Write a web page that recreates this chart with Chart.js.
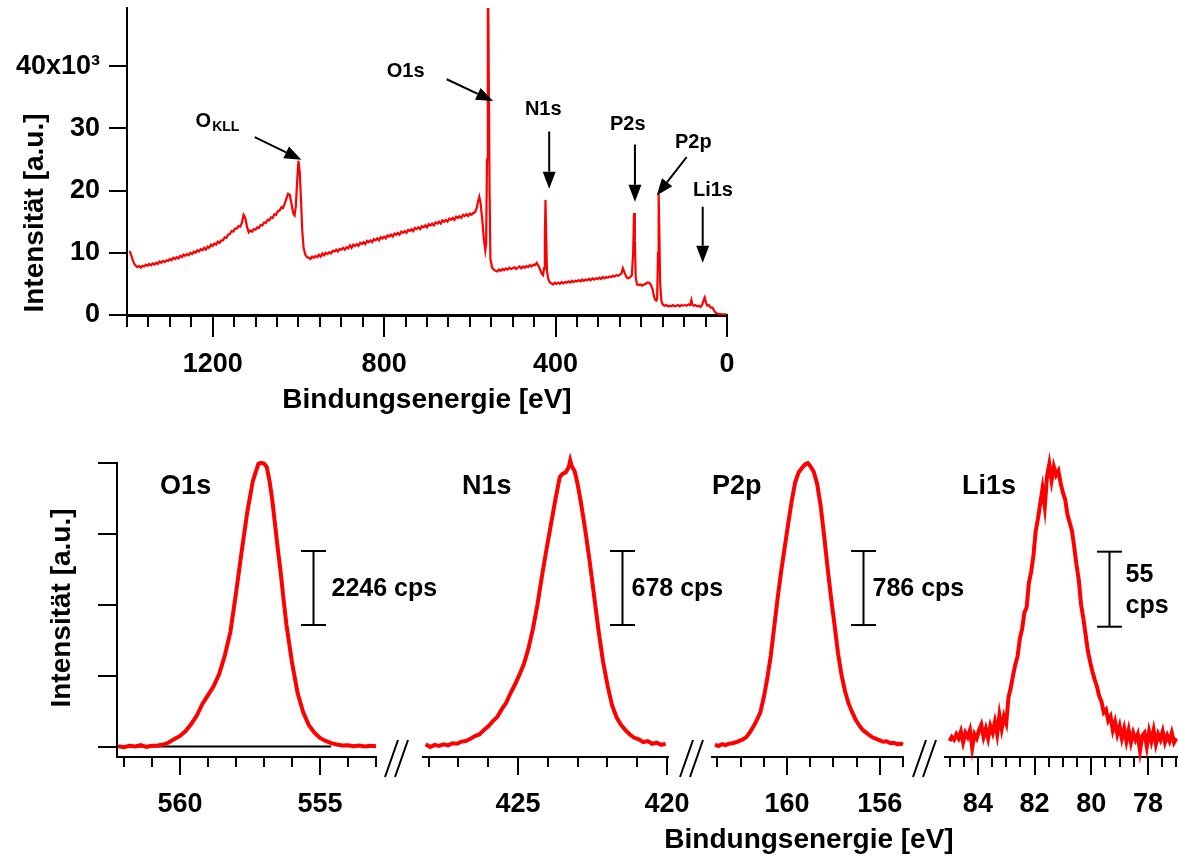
<!DOCTYPE html>
<html><head><meta charset="utf-8"><title>XPS</title>
<script src="https://cdn.jsdelivr.net/npm/chart.js@4.4.1/dist/chart.umd.min.js"></script>
<style>
html,body{margin:0;padding:0;background:#fff;}
body{width:1178px;height:859px;overflow:hidden;position:relative;}
canvas{position:absolute;left:0;top:0;}
</style></head><body>
<canvas id="survey" width="1178" height="859"></canvas>
<canvas id="pO1s" width="1178" height="859"></canvas>
<canvas id="pN1s" width="1178" height="859"></canvas>
<canvas id="pP2p" width="1178" height="859"></canvas>
<canvas id="pLi1s" width="1178" height="859"></canvas>
<script>
// ================= DATA =================
// Survey spectrum: [binding energy (eV), intensity (10^3 cps)]
const surveyPoints = [
[1394,10.3],[1390,9.6],[1386,8.7],[1382,8.1],
[1376,7.7],[1372,7.9],[1368,7.6],[1364,7.9],[1360,7.8],[1356,8.1],[1352,7.9],[1348,8.2],[1344,8.0],[1340,8.3],
[1336,8.1],[1332,8.4],[1328,8.2],[1324,8.6],[1320,8.4],[1316,8.7],[1312,8.5],[1308,8.8],[1304,8.7],[1300,9.0],
[1296,8.8],[1292,9.2],[1288,9.0],[1284,9.3],[1280,9.1],[1276,9.5],[1272,9.3],[1268,9.7],[1264,9.5],[1260,9.8],
[1256,9.6],[1252,10.0],[1248,9.8],[1244,10.2],[1240,10.0],[1236,10.4],[1232,10.2],[1228,10.6],[1224,10.4],[1220,10.8],
[1216,10.5],[1212,11.0],[1208,10.8],[1204,11.3],[1200,11.1],[1196,11.5],[1192,11.3],[1188,11.8],[1184,11.6],[1180,12.0],
[1176,12.0],[1172,12.5],[1168,12.4],[1164,12.9],[1160,13.0],[1156,13.5],[1152,13.4],[1148,13.9],[1144,13.9],[1140,14.3],
[1136,14.2],[1132,14.8],[1128,16.1],[1124,15.6],[1120,14.2],[1116,13.3],
[1112,13.6],[1108,13.4],[1104,13.8],[1100,13.7],[1096,14.1],[1092,14.0],[1088,14.5],[1084,14.4],[1080,14.9],[1076,14.8],
[1072,15.3],[1068,15.2],[1064,15.7],[1060,15.6],[1056,16.2],[1052,16.1],[1048,16.7],[1044,16.8],[1040,17.3],[1036,17.2],
[1032,17.9],[1028,18.7],[1024,19.5],[1020,19.3],[1016,17.8],[1012,16.3],[1009,16.0],[1006,17.5],[1003,21.5],[1000,24.8],
[997,23.0],[994,18.5],[991,13.5],[988,10.8],[984,9.7],[980,9.3],
[976,9.2],[972,9.0],[968,9.4],[964,9.2],[960,9.5],[956,9.3],[952,9.7],[948,9.4],[944,9.9],[940,9.6],
[936,10.0],[932,9.8],[928,10.1],[924,9.9],[920,10.3],[916,10.2],[912,10.5],[908,10.2],[904,10.6],[900,10.5],
[896,10.8],[892,10.5],[888,10.9],[884,10.7],[880,11.2],[876,10.8],[872,11.3],[868,11.1],[864,11.4],[860,11.1],
[856,11.6],[852,11.4],[848,11.7],[844,11.4],[840,11.9],[836,11.7],[832,12.0],[828,11.7],[824,12.2],[820,12.0],
[816,12.3],[812,12.0],[808,12.5],[804,12.3],[800,12.6],[796,12.3],[792,12.8],[788,12.6],[784,12.9],[780,12.6],
[776,13.1],[772,12.9],[768,13.2],[764,12.9],[760,13.4],[756,13.2],[752,13.5],[748,13.2],[744,13.7],[740,13.5],
[736,13.8],[732,13.5],[728,14.0],[724,13.8],[720,14.1],[716,13.8],[712,14.3],[708,14.1],[704,14.4],[700,14.1],
[696,14.6],[692,14.4],[688,14.7],[684,14.4],[680,14.9],[676,14.7],[672,15.0],[668,14.7],[664,15.2],[660,15.0],
[656,15.3],[652,15.0],[648,15.5],[644,15.3],[640,15.6],[636,15.3],[632,15.8],[628,15.6],[624,15.9],[620,15.6],
[616,16.1],[612,15.9],[608,16.2],[604,15.9],[600,16.3],[596,16.1],[592,16.4],[588,16.5],[584,17.2],[581,18.2],
[578,19.0],[575,18.0],[571,15.2],[567,12.0],[564,10.4],[562,11.5],[560,25.0],[558,50.0],[557,50.0],[556,50.0],
[554,20.0],[552,9.0],[548,7.6],
[544,7.3],[540,7.1],[536,7.0],[532,7.3],[528,7.1],[524,7.4],[520,7.2],[516,7.5],[512,7.3],[508,7.6],
[504,7.4],[500,7.5],[496,7.7],[492,7.4],[488,7.6],[484,7.8],[480,7.5],[476,7.8],[472,7.6],[468,7.9],
[464,7.7],[460,8.0],[456,7.8],[452,8.1],[448,8.0],[444,8.4],[440,7.9],[436,7.3],[432,6.6],[429,6.4],
[427,7.5],[425,13.0],[423.5,18.5],[422,13.0],[420,7.0],[417,5.8],[414,5.3],
[410,5.1],[406,4.9],[402,5.2],[398,5.0],[394,5.2],[390,5.0],[386,5.3],[382,5.1],[378,5.3],[374,5.2],
[370,5.4],[366,5.2],[362,5.5],[358,5.3],[354,5.5],[350,5.4],[346,5.6],[342,5.4],[338,5.7],[334,5.5],
[330,5.7],[326,5.6],[322,5.8],[318,5.6],[314,5.9],[310,5.7],[306,5.9],[302,5.8],[298,6.0],[294,5.8],
[290,6.1],[286,5.9],[282,6.1],[278,6.0],[274,6.2],[270,6.1],[266,6.3],[262,6.2],[258,6.4],[254,6.3],
[250,6.5],[246,6.7],[243,7.5],[239,6.8],[234,6.0],[230,5.9],[226,6.1],[222,6.4],[219,10.0],[217,16.4],
[215,12.0],[213,6.0],[210,4.9],[206,4.8],[202,4.9],[198,4.7],[194,4.9],[190,5.0],[186,5.2],[182,5.2],
[178,4.9],[174,4.2],[170,2.9],[167,2.4],[165,2.3],[163,2.6],[161,10.0],[159.5,19.5],[158,14.0],[156,5.0],
[153,2.2],[150,1.7],[146,1.5],[142,1.6],[138,1.4],[134,1.5],[130,1.4],[126,1.6],[122,1.4],[118,1.5],
[114,1.6],[110,1.4],[106,1.6],[102,1.5],[98,1.6],[94,1.5],[90,1.7],[86,1.6],[83,2.4],[81,1.7],
[78,1.5],[74,1.6],[70,1.4],[66,1.5],[62,1.3],[58,1.6],[55,2.3],[52,2.8],[49,2.0],[46,1.5],
[42,1.6],[38,1.2],[34,1.2],[30,0.7],[26,0.3],[20,0.2],[12,0.1],[6,0.1],[1,0.1]
];
const surveyXTicks = [0, 400, 800, 1200];
const surveyYTicks = [0, 10, 20, 30, 40];

// Detail scans: binding energy (eV) and intensity (cps, background ~0)
const o1sEnergy = [562.2,562.0,561.8,561.6,561.4,561.2,561.0,560.8,560.6,560.4,560.2,560.0,559.8,559.6,559.4,559.2,559.0,558.8,558.6,558.4,558.2,558.0,557.8,557.6,557.4,557.2,557.1,557.0,556.9,556.8,556.7,556.6,556.5,556.4,556.3,556.2,556.0,555.8,555.6,555.4,555.2,555.0,554.8,554.6,554.4,554.2,554.0,553.8,553.6,553.4,553.2,553.0];
const o1sCounts = [10,-20,20,0,40,-10,20,30,60,120,230,320,470,680,940,1290,1560,1830,2200,2760,3480,4650,5900,7100,8050,8580,8610,8590,8480,8050,7450,6700,5950,5250,4450,3700,2550,1620,1040,650,420,260,170,100,60,30,40,10,30,0,20,10];
const o1sBaselineEnergy = [562.25, 554.6];
const o1sBaselineCounts = [0, 0];

const n1sEnergy = [428.1,427.95,427.8,427.65,427.5,427.35,427.2,427.05,426.9,426.75,426.6,426.45,426.3,426.15,426.0,425.85,425.7,425.55,425.4,425.25,425.1,424.95,424.8,424.65,424.5,424.35,424.2,424.05,423.9,423.75,423.6,423.5,423.4,423.3,423.25,423.2,423.1,423.0,422.9,422.75,422.6,422.45,422.3,422.15,422.0,421.85,421.7,421.55,421.4,421.25,421.1,420.95,420.8,420.65,420.5,420.35,420.2,420.05];
const n1sCounts = [20,-5,15,5,20,10,30,25,45,50,70,95,110,150,185,230,270,340,400,490,570,660,760,900,1080,1300,1560,1800,2030,2260,2470,2500,2510,2560,2620,2570,2520,2400,2250,1990,1700,1380,1060,780,560,380,270,200,150,110,80,65,40,50,25,35,15,25];

const p2pEnergy = [163.1,162.95,162.8,162.65,162.5,162.35,162.2,162.05,161.9,161.75,161.6,161.45,161.3,161.15,161.0,160.85,160.7,160.55,160.4,160.25,160.1,159.95,159.8,159.65,159.5,159.35,159.2,159.1,159.0,158.85,158.7,158.55,158.4,158.25,158.1,157.95,157.8,157.65,157.5,157.35,157.2,157.05,156.9,156.75,156.6,156.45,156.3,156.15,156.0,155.85,155.7,155.55,155.4,155.25,155.1,155.0];
const p2pCounts = [20,5,25,15,30,35,45,60,75,100,150,210,280,360,520,720,960,1270,1580,1860,2110,2360,2600,2800,2910,2960,3000,3010,2980,2920,2790,2560,2240,1900,1580,1290,990,760,590,460,370,290,230,180,150,120,95,80,65,50,55,35,40,25,30,20];

const li1sEnergy = [85.00,84.92,84.84,84.76,84.68,84.60,84.52,84.44,84.36,84.28,84.20,84.12,84.04,83.96,83.88,83.80,83.72,83.64,83.56,83.48,83.40,83.32,83.24,83.16,83.08,83.00,82.92,82.84,82.76,82.68,82.60,82.52,82.44,82.36,82.28,82.20,82.12,82.04,81.96,81.88,81.80,81.72,81.64,81.56,81.48,81.40,81.32,81.24,81.16,81.08,81.00,80.92,80.84,80.76,80.68,80.60,80.52,80.44,80.36,80.28,80.20,80.12,80.04,79.96,79.88,79.80,79.72,79.64,79.56,79.48,79.40,79.32,79.24,79.16,79.08,79.00,78.92,78.84,78.76,78.68,78.60,78.52,78.44,78.36,78.28,78.20,78.12,78.04,77.96,77.88,77.80,77.72,77.64,77.56,77.48,77.40,77.32,77.24,77.16,77.08,77.00];
const li1sCounts = [4,7,5,9,6,11,3,10,7,12,-1,9,6,12,16,7,13,6,15,10,18,9,23,13,22,17,36,43,52,60,66,79,86,98,102,120,128,140,158,167,178,189,176,198,207,195,205,199,202,193,186,181,170,164,158,146,133,122,104,94,82,70,62,55,49,44,37,33,25,27,19,22,12,18,9,15,6,13,4,12,3,10,5,9,-3,8,10,0,11,4,12,2,9,5,11,3,8,4,10,3,6];

const detailTitles = ['O1s', 'N1s', 'P2p', 'Li1s'];
const detailXTicks = [[555, 560], [420, 425], [156, 160], [78, 80, 82, 84]];
const scaleBarCps = [2246, 678, 786, 55];
const scaleBarText = [['2246 cps'], ['678 cps'], ['786 cps'], ['55', 'cps']];

const surveyPeakNames = ['O', 'O1s', 'N1s', 'P2s', 'P2p', 'Li1s'];

// ================= LAYOUT / STYLE =================
const FONT = "'Liberation Sans', Arial, Helvetica, sans-serif";
const RED = '#ff0000';
const BLACK = '#000000';
Chart.defaults.font.family = FONT;
Chart.defaults.color = BLACK;

function pts(xs, ys) { return xs.map((x, i) => ({ x: x, y: ys[i] })); }

function txt(ctx, s, x, y, size, align) {
  ctx.font = 'bold ' + size + 'px ' + FONT;
  ctx.textAlign = align || 'left';
  ctx.textBaseline = 'alphabetic';
  ctx.fillStyle = BLACK;
  ctx.fillText(s, x, y);
}
function line(ctx, x1, y1, x2, y2, w) {
  ctx.strokeStyle = BLACK; ctx.lineWidth = w || 2;
  ctx.beginPath(); ctx.moveTo(x1, y1); ctx.lineTo(x2, y2); ctx.stroke();
}
function arrow(ctx, x1, y1, x2, y2) {
  const L = 17, hw = 6.5;
  const a = Math.atan2(y2 - y1, x2 - x1);
  const bx = x2 - L * Math.cos(a), by = y2 - L * Math.sin(a);
  line(ctx, x1, y1, bx, by, 2);
  ctx.fillStyle = BLACK;
  ctx.beginPath();
  ctx.moveTo(x2, y2);
  ctx.lineTo(bx + hw * Math.sin(a), by - hw * Math.cos(a));
  ctx.lineTo(bx - hw * Math.sin(a), by + hw * Math.cos(a));
  ctx.closePath(); ctx.fill();
}
function minorTicks(chart, from, step, n, len) {
  const xs = chart.scales.x, y0 = chart.chartArea.bottom;
  for (let i = 0; i <= n; i++) {
    const px = Math.round(xs.getPixelForValue(from + i * step));
    line(chart.ctx, px, y0, px, y0 + len, 2);
  }
}
function vTitle(ctx, s, x, y) {
  ctx.save(); ctx.translate(x, y); ctx.rotate(-Math.PI / 2);
  txt(ctx, s, 0, 0, 28, 'center'); ctx.restore();
}
function noPad(s) { s.paddingTop = 0; s.paddingBottom = 0; s.paddingLeft = 0; s.paddingRight = 0; }

const axisGrid = (len) => ({ display: true, drawOnChartArea: false, drawTicks: true, tickLength: len, tickWidth: 2, tickColor: BLACK, color: BLACK, lineWidth: 2 });

// survey annotation placement (in data units: eV, 10^3 cps)
const surveyNotes = [
  { tx: 1240, ty: 30.3, sub: 'KLL', from: [1102, 28.6], to: [993, 24.95] },
  { tx: 794, ty: 38.2, from: [654, 37.9], to: [545.6, 34.4] },
  { tx: 471.6, ty: 32.1, from: [414.9, 29.5], to: [414.9, 20.3] },
  { tx: 273, ty: 29.7, from: [214.8, 27.4], to: [214.8, 18.2] },
  { tx: 121.4, ty: 26.9, from: [94.1, 25.4], to: [164.1, 19.2] },
  { tx: 79.4, ty: 19.2, from: [56.7, 17.4], to: [56.7, 8.4] }
];

// ================= SURVEY CHART =================
new Chart(document.getElementById('survey'), {
  type: 'line',
  data: { datasets: [{ data: surveyPoints.map(p => ({ x: p[0], y: p[1] })), borderColor: RED, borderWidth: 2.2, pointRadius: 0, tension: 0 }] },
  options: {
    responsive: false, animation: false, devicePixelRatio: 1, events: [],
    layout: { padding: { left: 0, right: 1178 - 727, top: 8, bottom: 0 } },
    plugins: { legend: { display: false }, tooltip: { enabled: false } },
    scales: {
      x: {
        type: 'linear', reverse: true, min: 0, max: 1400,
        afterFit(s) { s.height = 859 - 315; noPad(s); },
        afterBuildTicks(s) { s.ticks = surveyXTicks.map(v => ({ value: v })); },
        grid: axisGrid(22), border: { display: true, color: BLACK, width: 3 },
        ticks: { font: { size: 27, weight: 'bold' }, padding: 11, color: BLACK, maxRotation: 0, autoSkip: false, callback: v => String(v) }
      },
      y: {
        type: 'linear', min: 0, max: 49.35,
        afterFit(s) { s.width = 127; noPad(s); },
        afterBuildTicks(s) { s.ticks = surveyYTicks.map(v => ({ value: v })); },
        grid: axisGrid(18), border: { display: true, color: BLACK, width: 2 },
        ticks: { font: { size: 27, weight: 'bold' }, padding: 9, color: BLACK, callback: v => (v === 40 ? '40x10\u00B3' : String(v)) }
      }
    }
  },
  plugins: [{
    id: 'surveyDecor',
    afterDraw(chart) {
      const ctx = chart.ctx, xs = chart.scales.x, ys = chart.scales.y;
      ctx.save();
      minorTicks(chart, 0, 50, 28, 12);
      surveyNotes.forEach((n, i) => {
        const tx = xs.getPixelForValue(n.tx), ty = ys.getPixelForValue(n.ty);
        txt(ctx, surveyPeakNames[i], tx, ty, 20, 'left');
        if (n.sub) {
          ctx.font = 'bold 20px ' + FONT;
          const w = ctx.measureText(surveyPeakNames[i]).width;
          txt(ctx, n.sub, tx + w + 1, ty + 4, 14, 'left');
        }
        arrow(ctx, xs.getPixelForValue(n.from[0]), ys.getPixelForValue(n.from[1]),
                   xs.getPixelForValue(n.to[0]), ys.getPixelForValue(n.to[1]));
      });
      txt(ctx, 'Bindungsenergie [eV]', (chart.chartArea.left + chart.chartArea.right) / 2, 408, 28, 'center');
      vTitle(ctx, 'Intensität [a.u.]', 43, 213);
      ctx.restore();
    }
  }]
});

// ================= DETAIL CHARTS =================
const detailAxes = [
  { id: 'pO1s', e: o1sEnergy, c: o1sCounts, xmin: 553.0, xmax: 562.25, ymax: 8604, mFrom: 553, mStep: 1, mN: 9, left: 117, right: 376, yAxis: true,
    titleX: 560.71, bar: { x: 555.24, y0: 3687, dx: 18 } },
  { id: 'pN1s', e: n1sEnergy, c: n1sCounts, xmin: 419.97, xmax: 428.19, ymax: 2597, mFrom: 420, mStep: 1, mN: 8, left: 423, right: 668, yAxis: false,
    titleX: 426.88, bar: { x: 421.53, y0: 1113, dx: 9 } },
  { id: 'pP2p', e: p2pEnergy, c: p2pCounts, xmin: 155.0, xmax: 163.23, ymax: 3011, mFrom: 155, mStep: 1, mN: 8, left: 712, right: 903, yAxis: false,
    titleX: 163.23, bar: { x: 156.72, y0: 1290, dx: 9 } },
  { id: 'pLi1s', e: li1sEnergy, c: li1sCounts, xmin: 76.94, xmax: 85.16, ymax: 207.8, mFrom: 77, mStep: 0.5, mN: 16, left: 945, right: 1178, yAxis: false,
    titleX: 84.56, bar: { x: 79.38, y0: 87.8, dx: 16 } }
];

detailAxes.forEach((a, i) => {
  const ymin = -a.ymax * 10.5 / 283.5;
  const datasets = [{ data: pts(a.e, a.c), borderColor: RED, borderWidth: 4, pointRadius: 0, tension: 0, clip: false, order: 0 }];
  if (i === 0) datasets.push({ data: pts(o1sBaselineEnergy, o1sBaselineCounts), borderColor: BLACK, borderWidth: 2, pointRadius: 0, order: 1 });
  new Chart(document.getElementById(a.id), {
    type: 'line',
    data: { datasets: datasets },
    options: {
      responsive: false, animation: false, devicePixelRatio: 1, events: [],
      layout: { padding: { left: a.yAxis ? 0 : a.left, right: 1178 - a.right, top: 463, bottom: 0 } },
      plugins: { legend: { display: false }, tooltip: { enabled: false } },
      scales: {
        x: {
          type: 'linear', reverse: true, min: a.xmin, max: a.xmax,
          afterFit(s) { s.height = 859 - 757; noPad(s); },
          afterBuildTicks(s) { s.ticks = detailXTicks[i].map(v => ({ value: v })); },
          grid: axisGrid(18), border: { display: true, color: BLACK, width: 2 },
          ticks: { font: { size: 27, weight: 'bold' }, padding: 13, color: BLACK, maxRotation: 0, autoSkip: false, callback: v => String(v) }
        },
        y: {
          type: 'linear', min: ymin, max: a.ymax, display: a.yAxis,
          afterFit(s) { s.width = a.yAxis ? a.left : 0; noPad(s); },
          afterBuildTicks(s) { s.ticks = [0, 1, 2, 3, 4].map(k => ({ value: k * a.ymax / 4 })); },
          grid: axisGrid(19), border: { display: true, color: BLACK, width: 2 },
          ticks: { display: false }
        }
      }
    },
    plugins: [{
      id: 'detailDecor' + i,
      afterDraw(chart) {
        const ctx = chart.ctx, xs = chart.scales.x, ys = chart.scales.y, ca = chart.chartArea;
        ctx.save();
        minorTicks(chart, a.mFrom, a.mStep, a.mN, 10);
        // panel title
        txt(ctx, detailTitles[i], xs.getPixelForValue(a.titleX), ca.top + 31, 27, 'left');
        // scale bar
        const bx = Math.round(xs.getPixelForValue(a.bar.x)) + 0.5;
        const y0 = ys.getPixelForValue(a.bar.y0), y1 = ys.getPixelForValue(a.bar.y0 + scaleBarCps[i]);
        line(ctx, bx, y0, bx, y1, 2);
        line(ctx, bx - 12.5, y0, bx + 12.5, y0, 2);
        line(ctx, bx - 12.5, y1, bx + 12.5, y1, 2);
        const mid = (y0 + y1) / 2;
        const lines = scaleBarText[i];
        if (lines.length === 1) txt(ctx, lines[0], bx + a.bar.dx, mid + 8, 25, 'left');
        else { txt(ctx, lines[0], bx + a.bar.dx, mid - 7, 25, 'left'); txt(ctx, lines[1], bx + a.bar.dx, mid + 24, 25, 'left'); }
        if (i === 0) {
          // shared axis titles for the detail row
          txt(ctx, 'Bindungsenergie [eV]', 809, 848, 28, 'center');
          vTitle(ctx, 'Intensität [a.u.]', 70, 608);
          // axis break marks
          [385, 680, 913].forEach(x0 => {
            line(ctx, x0, 777, x0 + 13, 740, 2);
            line(ctx, x0 + 10, 777, x0 + 23, 740, 2);
          });
        }
        ctx.restore();
      }
    }]
  });
});
</script>
</body></html>
